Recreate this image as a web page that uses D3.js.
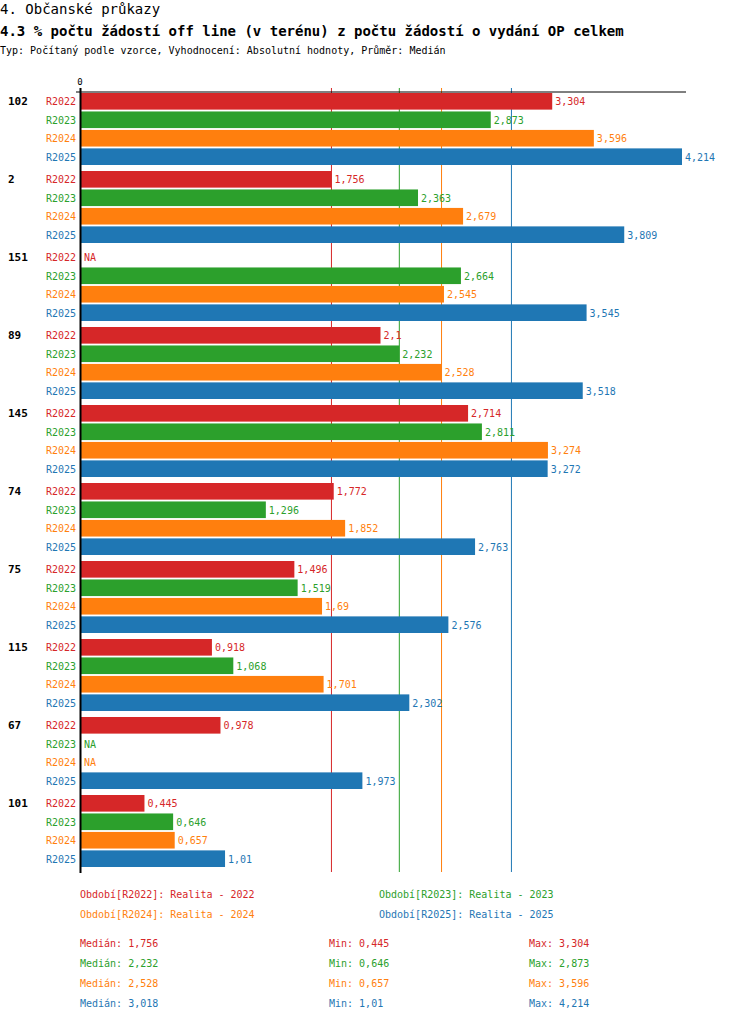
<!DOCTYPE html><html><head><meta charset="utf-8">
<script src="https://cdn.jsdelivr.net/npm/d3@7"></script>
<style>body{margin:0;background:#fff}</style></head><body>
<script>
const groups=["102","2","151","89","145","74","75","115","67","101"];
const series=["R2022","R2023","R2024","R2025"];
const colors=["#d62728","#2ca02c","#ff7f0e","#1f77b4"];
const v2022=[3.304,1.756,null,2.1,2.714,1.772,1.496,0.918,0.978,0.445];
const v2023=[2.873,2.363,2.664,2.232,2.811,1.296,1.519,1.068,null,0.646];
const v2024=[3.596,2.679,2.545,2.528,3.274,1.852,1.69,1.701,null,0.657];
const v2025=[4.214,3.809,3.545,3.518,3.272,2.763,2.576,2.302,1.973,1.01];
const legendNames=["Období[R2022]: Realita - 2022","Období[R2023]: Realita - 2023","Období[R2024]: Realita - 2024","Období[R2025]: Realita - 2025"];
const medians=[1.756,2.232,2.528,3.018];
const mins=[0.445,0.646,0.657,1.01];
const maxs=[3.304,2.873,3.596,4.214];
const vals=[v2022,v2023,v2024,v2025];
const fmt=v=>String(v).replace(".",",");
const F="'DejaVu Sans Mono',monospace";
const svg=d3.select("body").append("svg").attr("width",750).attr("height",1022).style("font-family",F);
svg.append("text").attr("x",0).attr("y",14).attr("font-size",14).text("4. Občanské průkazy");
svg.append("text").attr("x",0).attr("y",36).attr("font-size",14).attr("font-weight","bold").text("4.3 % počtu žádostí off line (v terénu) z počtu žádostí o vydání OP celkem");
svg.append("text").attr("x",0).attr("y",54).attr("font-size",10).text("Typ: Počítaný podle vzorce, Vyhodnocení: Absolutní hodnoty, Průměr: Medián");
const x=d3.scaleLinear().domain([0,4.214]).range([81,682]);
const gy=d3.scaleBand().domain(groups).range([92,872]).paddingInner(0).paddingOuter(0);
const by=d3.scaleBand().domain(series).range([0,72]).paddingInner(0.1);
medians.forEach((m,i)=>svg.append("line").attr("x1",x(m)).attr("x2",x(m)).attr("y1",88).attr("y2",872).attr("stroke",colors[i]).attr("stroke-width",1));
groups.forEach((g,gi)=>{
  const g0=gy(g)+1;
  svg.append("text").attr("x",8).attr("y",g0+by("R2022")+by.bandwidth()/2+4).attr("font-size",11).attr("font-weight","bold").text(g);
  series.forEach((s,si)=>{
    const v=vals[si][gi], yy=g0+by(s), c=colors[si];
    svg.append("text").attr("x",76).attr("y",yy+by.bandwidth()/2+4).attr("text-anchor","end").attr("font-size",10).attr("fill",c).text(s);
    if(v==null){svg.append("text").attr("x",x(0)+3).attr("y",yy+by.bandwidth()/2+4).attr("font-size",10).attr("fill",c).text("NA");return;}
    svg.append("rect").attr("x",x(0)).attr("y",yy).attr("width",x(v)-x(0)).attr("height",by.bandwidth()).attr("fill",c);
    svg.append("text").attr("x",x(v)+3).attr("y",yy+by.bandwidth()/2+4).attr("font-size",10).attr("fill",c).text(fmt(v));
  });
});
svg.append("line").attr("x1",76).attr("x2",686).attr("y1",92).attr("y2",92).attr("stroke","#000");
svg.append("line").attr("x1",80.5).attr("x2",80.5).attr("y1",88).attr("y2",873).attr("stroke","#000").attr("stroke-width",2);
svg.append("text").attr("x",80).attr("y",85).attr("text-anchor","middle").attr("font-size",9).text("0");
legendNames.forEach((n,i)=>svg.append("text").attr("x",i%2?379:80).attr("y",898+Math.floor(i/2)*20).attr("font-size",10).attr("fill",colors[i]).text(n));
series.forEach((s,i)=>{
  const y=947+i*20;
  svg.append("text").attr("x",80).attr("y",y).attr("font-size",10).attr("fill",colors[i]).text("Medián: "+fmt(medians[i]));
  svg.append("text").attr("x",329).attr("y",y).attr("font-size",10).attr("fill",colors[i]).text("Min: "+fmt(mins[i]));
  svg.append("text").attr("x",529).attr("y",y).attr("font-size",10).attr("fill",colors[i]).text("Max: "+fmt(maxs[i]));
});
</script></body></html>
